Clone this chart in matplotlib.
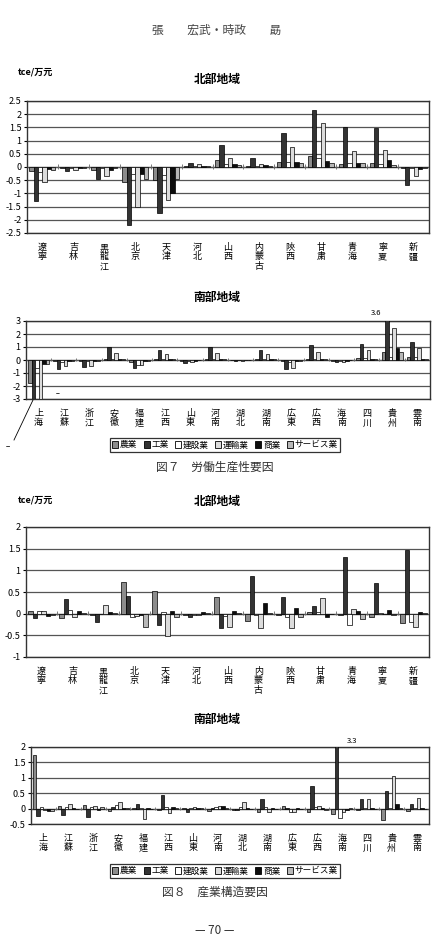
import matplotlib
matplotlib.use('Agg')
import matplotlib.pyplot as plt
from matplotlib.patches import Patch
from matplotlib.transforms import blended_transform_factory
from matplotlib.lines import Line2D
import numpy as np

plt.rcParams['font.family'] = ['Noto Sans CJK JP', 'DejaVu Sans']
plt.rcParams['axes.unicode_minus'] = False

series = ['農業', '工業', '建設業', '運輸業', '商業', 'サービス業']
colors = ['#8c8c8c', '#333333', '#ffffff', '#dcdcdc', '#0d0d0d', '#b8b8b8']

north = ['遼寧', '吉林', '黒龍江', '北京', '天津', '河北', '山西', '内蒙古',
         '陝西', '甘粛', '青海', '寧夏', '新疆']
south = ['上海', '江蘇', '浙江', '安徽', '福建', '江西', '山東', '河南',
         '湖北', '湖南', '広東', '広西', '海南', '四川', '貴州', '雲南']

# ---- Fig.7 労働生産性要因, north ----
f7n_agri = [-0.15, -0.03, -0.10, -0.55, -0.48, 0.03, 0.25, 0.03, 0.18, 0.40, 0.12, 0.15, -0.05]
f7n_ind = [-1.27, -0.17, -0.47, -2.18, -1.75, 0.17, 0.85, 0.35, 1.30, 2.15, 1.50, 1.48, -0.70]
f7n_cons = [-0.20, -0.05, -0.05, -0.25, -0.30, 0.03, 0.10, 0.03, 0.20, 0.35, 0.15, 0.12, -0.05]
f7n_trans = [-0.58, -0.10, -0.33, -1.50, -1.25, 0.10, 0.33, 0.13, 0.77, 1.65, 0.60, 0.66, -0.33]
f7n_comm = [-0.07, -0.05, -0.10, -0.25, -0.97, 0.03, 0.10, 0.07, 0.20, 0.22, 0.15, 0.25, -0.07]
f7n_serv = [-0.12, -0.05, -0.05, -0.47, -0.45, 0.03, 0.08, 0.05, 0.15, 0.17, 0.15, 0.08, -0.05]

# ---- Fig.7 労働生産性要因, south ----
f7s_agri = [-1.80, -0.10, -0.10, 0.10, -0.15, 0.08, -0.05, 0.10, -0.03, 0.10, -0.10, 0.10, -0.05, 0.15, 0.65, 0.20]
f7s_ind = [-3.30, -0.70, -0.55, 1.00, -0.60, 0.80, -0.25, 1.00, -0.05, 0.80, -0.70, 1.15, -0.15, 1.25, 3.60, 1.40]
f7s_cons = [-0.60, -0.15, -0.10, 0.10, -0.40, 0.10, -0.05, 0.10, -0.02, 0.10, -0.15, 0.10, -0.05, 0.15, 0.20, 0.20]
f7s_trans = [-3.30, -0.45, -0.45, 0.55, -0.35, 0.50, -0.15, 0.55, -0.05, 0.50, -0.65, 0.65, -0.15, 0.75, 2.45, 0.95]
f7s_comm = [-0.30, -0.10, -0.10, 0.10, -0.10, 0.05, -0.05, 0.08, -0.03, 0.08, -0.10, 0.10, -0.05, 0.10, 0.90, 0.10]
f7s_serv = [-0.30, -0.05, -0.05, 0.05, -0.05, 0.05, -0.03, 0.05, -0.03, 0.05, -0.05, 0.05, -0.03, 0.05, 0.60, 0.05]

# ---- Fig.8 産業構造要因, north ----
f8n_agri = [0.07, -0.10, -0.02, 0.73, 0.52, -0.02, 0.38, -0.17, -0.03, 0.05, -0.02, -0.07, -0.22]
f8n_ind = [-0.10, 0.33, -0.19, 0.40, -0.25, -0.08, -0.32, 0.87, 0.39, 0.18, 1.30, 0.70, 1.48]
f8n_cons = [0.07, 0.08, 0.00, -0.08, 0.04, -0.02, -0.05, -0.03, -0.07, 0.04, -0.25, 0.01, -0.20]
f8n_trans = [0.07, -0.07, 0.20, -0.06, -0.52, -0.04, -0.31, -0.33, -0.33, 0.37, 0.10, 0.00, -0.30]
f8n_comm = [-0.05, 0.07, 0.05, -0.03, 0.07, 0.03, 0.07, 0.25, 0.13, -0.08, 0.07, 0.08, 0.04]
f8n_serv = [-0.02, 0.02, 0.02, -0.31, -0.07, 0.02, 0.02, 0.02, -0.07, 0.00, -0.12, -0.03, 0.02]

# ---- Fig.8 産業構造要因, south ----
f8s_agri = [1.75, 0.07, 0.12, -0.07, 0.02, -0.05, 0.02, -0.08, -0.03, -0.12, 0.07, -0.10, -0.18, -0.05, -0.38, -0.07]
f8s_ind = [-0.25, -0.20, -0.27, 0.05, 0.15, 0.45, -0.10, 0.02, -0.03, 0.32, 0.03, 0.72, 3.30, 0.32, 0.57, 0.15]
f8s_cons = [0.05, 0.05, 0.05, 0.13, 0.02, 0.04, 0.02, 0.05, 0.05, 0.05, -0.10, 0.05, -0.30, 0.02, 0.02, 0.02]
f8s_trans = [-0.05, 0.15, 0.10, 0.20, -0.33, -0.15, 0.05, 0.08, 0.20, -0.10, -0.12, 0.07, -0.10, 0.30, 1.05, 0.35]
f8s_comm = [-0.07, 0.02, -0.05, 0.02, 0.02, 0.05, 0.02, 0.07, 0.02, 0.02, 0.02, 0.02, -0.05, 0.02, 0.15, 0.02]
f8s_serv = [-0.07, 0.00, 0.05, 0.02, -0.02, 0.02, 0.01, 0.03, 0.00, 0.00, 0.00, -0.03, 0.01, 0.00, 0.02, 0.00]

W, H = 435, 950
fig = plt.figure(figsize=(W / 100, H / 100), dpi=100)


def rect(l, t, r, b):
    return [l / W, 1 - b / H, (r - l) / W, (b - t) / H]


def draw(ax, cats, data, ylim, yticks, ytl):
    n = len(cats)
    x = np.arange(n)
    w = 0.14
    for k, (vals, c) in enumerate(zip(data, colors)):
        ax.bar(x + (k - 2.5) * w, vals, w, color=c, edgecolor='black',
               linewidth=0.5, zorder=3)
    ax.set_xlim(-0.5, n - 0.5)
    ax.set_ylim(*ylim)
    ax.set_yticks(yticks)
    ax.set_yticklabels(ytl)
    ax.yaxis.grid(True, color='#555555', lw=0.9)
    ax.set_axisbelow(True)
    ax.axhline(0, color='#555555', lw=0.9, zorder=2)
    ax.set_xticks(x)
    ax.set_xticklabels(['\n'.join(c) for c in cats], fontsize=6.5,
                       linespacing=1.1, va='top')
    ax.tick_params(axis='x', length=0, pad=7)
    ax.tick_params(axis='y', length=2, labelsize=6.5, pad=2)
    for s in ax.spines.values():
        s.set_color('#333333')
        s.set_linewidth(1)
    frac = (0 - ylim[0]) / (ylim[1] - ylim[0])
    tr = blended_transform_factory(ax.transData, ax.transAxes)
    ax.vlines(np.arange(1, n) - 0.5, frac - 0.012, frac + 0.02, transform=tr,
              color='#666666', lw=0.6, zorder=2)


def ftext(x, y, s, **kw):
    fig.text(x / W, 1 - y / H, s, **kw)


# header
ftext(217, 30, '張　　宏武・時政　　勗', ha='center', va='center', fontsize=8.5, color='#444444')

# Fig 7
ftext(35, 72, 'tce/万元', ha='center', va='center', fontsize=6.5, fontweight='bold')
ftext(217, 80, '北部地域', ha='center', va='center', fontsize=8.5, fontweight='bold')
ax1 = fig.add_axes(rect(27, 101, 429, 233))
draw(ax1, north, [f7n_agri, f7n_ind, f7n_cons, f7n_trans, f7n_comm, f7n_serv],
     (-2.5, 2.5), np.arange(-2.5, 2.51, 0.5),
     ['-2.5', '-2', '-1.5', '-1', '-0.5', '0', '0.5', '1', '1.5', '2', '2.5'])

ftext(217, 298, '南部地域', ha='center', va='center', fontsize=8.5, fontweight='bold')
ax2 = fig.add_axes(rect(26, 321, 430, 399))
draw(ax2, south, [f7s_agri, f7s_ind, f7s_cons, f7s_trans, f7s_comm, f7s_serv],
     (-3, 3), np.arange(-3, 3.01, 1), ['-3', '-2', '-1', '0', '1', '2', '3'])
ftext(376, 313, '3.6', ha='center', va='center', fontsize=5.5)
fig.add_artist(Line2D([33 / W, 14 / W], [1 - 400 / H, 1 - 440 / H], color='black', lw=0.6))
ftext(8, 446, '−', ha='center', va='center', fontsize=5.5)
ftext(58, 394, '−', ha='center', va='center', fontsize=5)


def legend(cy):
    handles = [Patch(facecolor=c, edgecolor='black', lw=0.6) for c in colors]
    lg = fig.legend(handles, series, loc='center', bbox_to_anchor=(225 / W, 1 - cy / H),
                    ncol=6, fontsize=6.2, frameon=True, fancybox=False,
                    handlelength=0.7, handleheight=0.7, handletextpad=0.2,
                    columnspacing=0.75, borderpad=0.25, borderaxespad=0)
    lg.get_frame().set_edgecolor('black')
    lg.get_frame().set_linewidth(0.9)


legend(445)
ftext(215, 467, '図７　労働生産性要因', ha='center', va='center', fontsize=8.5, color='#333333')

# Fig 8
ftext(35, 500, 'tce/万元', ha='center', va='center', fontsize=6.5, fontweight='bold')
ftext(217, 502, '北部地域', ha='center', va='center', fontsize=8.5, fontweight='bold')
ax3 = fig.add_axes(rect(26, 527, 429, 657))
draw(ax3, north, [f8n_agri, f8n_ind, f8n_cons, f8n_trans, f8n_comm, f8n_serv],
     (-1, 2), np.arange(-1, 2.01, 0.5), ['-1', '-0.5', '0', '0.5', '1', '1.5', '2'])

ftext(217, 719, '南部地域', ha='center', va='center', fontsize=8.5, fontweight='bold')
ax4 = fig.add_axes(rect(31, 747, 429, 824))
draw(ax4, south, [f8s_agri, f8s_ind, f8s_cons, f8s_trans, f8s_comm, f8s_serv],
     (-0.5, 2), np.arange(-0.5, 2.01, 0.5), ['-0.5', '0', '0.5', '1', '1.5', '2'])
ftext(352, 741, '3.3', ha='center', va='center', fontsize=5.5)

legend(871)
ftext(215, 892, '図８　産業構造要因', ha='center', va='center', fontsize=8.5, color='#333333')
ftext(215, 930, '— 70 —', ha='center', va='center', fontsize=8.5, color='#333333')

fig.savefig('out.png', dpi=100)
